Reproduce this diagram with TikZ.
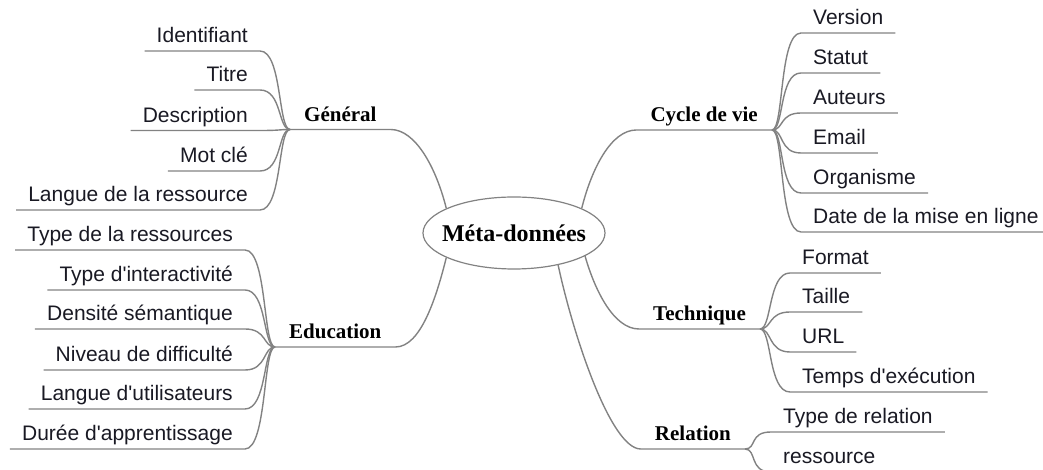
\documentclass[tikz,border=0pt]{standalone}
\usepackage{fontspec}
\setmainfont{Liberation Serif}
\setsansfont{Liberation Sans}
\usetikzlibrary{shapes.geometric}

\definecolor{linegray}{RGB}{130,130,130}
\definecolor{leaftext}{RGB}{25,25,35}

\tikzset{
  branch/.style={draw=linegray, line width=1.4pt},
  root/.style={ellipse, draw=linegray, line width=1.2pt, fill=white, minimum width=182pt, minimum height=72pt, inner xsep=-12pt, inner ysep=0pt, font=\bfseries\fontsize{24}{28}\selectfont},
  topic/.style={font=\bfseries\fontsize{21}{25}\selectfont, inner xsep=14pt, inner ysep=3pt, text depth=5pt},
  leaf/.style={font=\sffamily\fontsize{21}{25}\selectfont, text=leaftext, inner xsep=12pt, inner ysep=3pt, text depth=5pt}
}

\begin{document}
\begin{tikzpicture}[x=1pt, y=1pt]
    \useasboundingbox (0,0) rectangle (1043,470);

    % Central node
    \node[root] (meta) at (514,237) {Méta-données};

    % Topics round the centre
    \node[topic, anchor=south west] (gen) at (290,340.5) {Général};
    \node[topic, anchor=south west] (edu) at (275,123) {Education};
    \node[topic, anchor=south east] (cyc) at (772,340) {Cycle de vie};
    \node[topic, anchor=south east] (tech) at (760,141) {Technique};
    \node[topic, anchor=south east] (rel) at (745,21) {Relation};

    \draw[branch] (meta.160) .. controls +(-10,40) and +(25,0) .. (gen.south east) -- (gen.south west);
    \draw[branch] (meta.200) .. controls +(-10,-40) and +(25,0) .. (edu.south east) -- (edu.south west);
    \draw[branch] (meta.20) .. controls +(10,40) and +(-25,0) .. (cyc.south west) -- (cyc.south east);
    \draw[branch] (meta.-18) .. controls +(10,-35) and +(-25,0) .. (tech.south west) -- (tech.south east);
    \draw[branch] (meta.-36) .. controls +(15,-70) and +(-30,0) .. (rel.south west) -- (rel.south east);

    % Général
    \node[leaf, anchor=south east] (gen1) at (260,419) {Identifiant};
    \node[leaf, anchor=south east] (gen2) at (260,380) {Titre};
    \node[leaf, anchor=south east] (gen3) at (260,339.5) {Description};
    \node[leaf, anchor=south east] (gen4) at (260,299) {Mot clé};
    \node[leaf, anchor=south east] (gen5) at (260,260) {Langue de la ressource};
    \foreach \n in {gen1,gen2,gen3,gen4,gen5}
        \draw[branch] (\n.south west) -- (\n.south east) .. controls +(22,0) and +(-12,0) .. (gen.south west);

    % Education
    \node[leaf, anchor=south east] (edu1) at (245,220) {Type de la ressources};
    \node[leaf, anchor=south east] (edu2) at (245,180) {Type d\textquotesingle interactivité};
    \node[leaf, anchor=south east] (edu3) at (245,141) {Densité sémantique};
    \node[leaf, anchor=south east] (edu4) at (245,100) {Niveau de difficulté};
    \node[leaf, anchor=south east] (edu5) at (245,61) {Langue d\textquotesingle utilisateurs};
    \node[leaf, anchor=south east] (edu6) at (245,21) {Durée d\textquotesingle apprentissage};
    \foreach \n in {edu1,edu2,edu3,edu4,edu5,edu6}
        \draw[branch] (\n.south west) -- (\n.south east) .. controls +(22,0) and +(-12,0) .. (edu.south west);

    % Cycle de vie
    \node[leaf, anchor=south west] (cyc1) at (801,437) {Version};
    \node[leaf, anchor=south west] (cyc2) at (801,397) {Statut};
    \node[leaf, anchor=south west] (cyc3) at (801,357) {Auteurs};
    \node[leaf, anchor=south west] (cyc4) at (801,317) {Email};
    \node[leaf, anchor=south west] (cyc5) at (801,277) {Organisme};
    \node[leaf, anchor=south west] (cyc6) at (801,238) {Date de la mise en ligne};
    \foreach \n in {cyc1,cyc2,cyc3,cyc4,cyc5,cyc6}
        \draw[branch] (\n.south east) -- (\n.south west) .. controls +(-22,0) and +(12,0) .. (cyc.south east);

    % Technique
    \node[leaf, anchor=south west] (tech1) at (790,197) {Format};
    \node[leaf, anchor=south west] (tech2) at (790,158) {Taille};
    \node[leaf, anchor=south west] (tech3) at (790,118) {URL};
    \node[leaf, anchor=south west] (tech4) at (790,78) {Temps d\textquotesingle exécution};
    \foreach \n in {tech1,tech2,tech3,tech4}
        \draw[branch] (\n.south east) -- (\n.south west) .. controls +(-22,0) and +(12,0) .. (tech.south east);

    % Relation
    \node[leaf, anchor=south west] (rel1) at (771,38) {Type de relation};
    \node[leaf, anchor=south west] (rel2) at (771,-2) {ressource};
    \foreach \n in {rel1,rel2}
        \draw[branch] (\n.south east) -- (\n.south west) .. controls +(-22,0) and +(12,0) .. (rel.south east);
\end{tikzpicture}
\end{document}
